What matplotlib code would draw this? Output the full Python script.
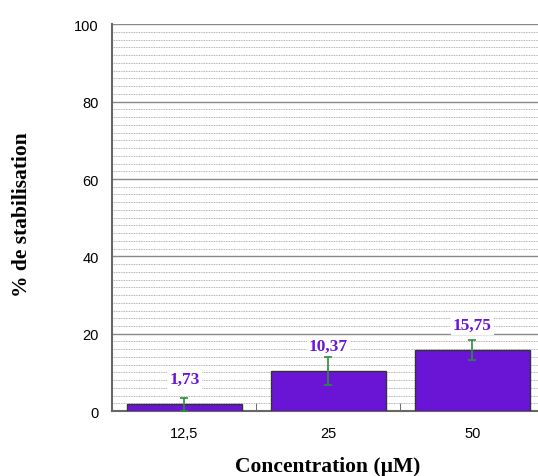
import matplotlib.pyplot as plt
import numpy as np
from matplotlib.ticker import MultipleLocator, FixedLocator

# données
concentrations = ['12,5', '25', '50']
stabilisation = [1.73, 10.37, 15.75]
erreurs = [1.6, 3.6, 2.6]
etiquettes = ['1,73', '10,37', '15,75']

fig = plt.figure(figsize=(5.38, 4.77), dpi=100)
ax = fig.add_axes([0.209, 0.136, 0.803, 0.811])

x = np.arange(len(concentrations))
ax.bar(x, stabilisation, width=0.8, color='#6A14D6', edgecolor='#333333',
       linewidth=1.0, zorder=3)
ax.errorbar(x, stabilisation, yerr=erreurs, fmt='none', ecolor='#2E8B3E',
            elinewidth=1.2, capsize=3, capthick=1.2, zorder=4)

for xi, v, lab in zip(x, stabilisation, etiquettes):
    ax.text(xi, v + 6.5, lab, ha='center', va='center', color='#6A14D6',
            fontsize=12.5, fontweight='bold', family='Liberation Serif',
            bbox=dict(facecolor='white', edgecolor='none', pad=1.5), zorder=5)

ax.set_xlim(-0.5, 2.5)
ax.set_ylim(0, 100)
ax.yaxis.set_major_locator(MultipleLocator(20))
ax.yaxis.set_minor_locator(MultipleLocator(2))
ax.grid(which='major', axis='y', color='#888888', linewidth=1.0, zorder=0)
ax.grid(which='minor', axis='y', color='#999999', linewidth=0.6,
        linestyle=(0, (1, 1)), zorder=0)

ax.set_xticks(x)
ax.set_xticklabels(concentrations, family='Liberation Sans', fontsize=10.5)
ax.tick_params(axis='x', length=0, pad=11)
ax.xaxis.set_minor_locator(FixedLocator([0.5, 1.5]))
ax.tick_params(axis='x', which='minor', direction='in', length=6,
               color='#555555')
ax.tick_params(axis='y', which='major', length=0, pad=10)
ax.tick_params(axis='y', which='minor', length=0)
for t in ax.get_yticklabels():
    t.set_family('Liberation Sans')
    t.set_fontsize(10.5)

for s in ['top', 'right']:
    ax.spines[s].set_visible(False)
ax.spines['left'].set_color('#666666')
ax.spines['bottom'].set_color('#666666')
ax.spines['left'].set_linewidth(1.5)
ax.spines['bottom'].set_linewidth(1.5)

fig.text(0.041, 0.55, '% de stabilisation', rotation=90, ha='center',
         va='center', fontsize=15.5, fontweight='bold', family='Liberation Serif')
fig.text(0.61, 0.021, 'Concentration (µM)', ha='center', va='center',
         fontsize=15.5, fontweight='bold', family='Liberation Serif')

plt.savefig('out.png', dpi=100)
